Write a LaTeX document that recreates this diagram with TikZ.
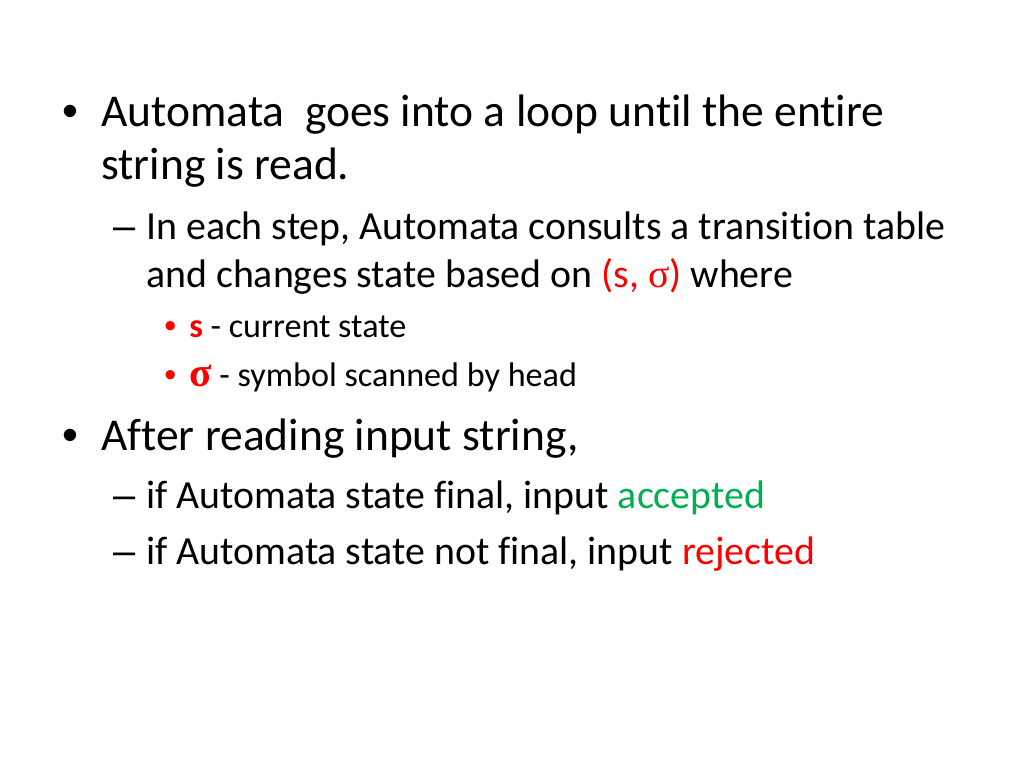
\documentclass[tikz,border=0pt]{standalone}
\usepackage{fontspec}
\setmainfont[Ligatures=NoCommon]{Carlito}
\newfontfamily\symfont{Liberation Serif}
\newfontfamily\markfont{Liberation Sans}
\usepackage{xcolor}
\definecolor{pptred}{RGB}{255,0,0}
\definecolor{pptgreen}{RGB}{0,176,80}
\newcommand{\sig}{{\symfont σ}}
\newcommand{\bigsig}{{\symfont\fontsize{29}{29}\selectfont σ}}

\begin{document}
\begin{tikzpicture}[x=0.703125pt,y=-0.703125pt,
    lone/.style={anchor=base west,inner sep=0pt,font=\fontsize{32}{38}\selectfont},
    ltwo/.style={anchor=base west,inner sep=0pt,font=\fontsize{28}{34}\selectfont},
    lthree/.style={anchor=base west,inner sep=0pt,font=\fontsize{24}{29}\selectfont},
    bulletmark/.style={anchor=base west,inner sep=0pt}]
   \useasboundingbox[fill=white] (0,0) rectangle (1024,768);
    % first level
    \node[bulletmark,font=\markfont\fontsize{32}{38}\selectfont] (b1) at (62,127) {•};
    \node[lone] (loop) at (101,127) {Automata\ \ goes into a loop until the entire};
    \node[lone] (read) at (101,180) {string is read.};
    % second level
    \node[bulletmark,font=\markfont\fontsize{28}{34}\selectfont] (d1) at (113,240) {–};
    \node[ltwo] (step) at (146,240) {In each step, Automata consults a transition table};
    \node[ltwo] (based) at (146,288) {and changes state based on \textcolor{pptred}{(s, \sig)} where};
    % third level
    \foreach \y/\nm/\sym/\txt in {337/cur/s/current state, 386/sym/\bigsig/symbol scanned by head}{
      \node[bulletmark,pptred,font=\markfont\fontsize{24}{29}\selectfont] (b\nm) at (164,\y) {•};
      \node[lthree] (\nm) at (189,\y) {\textcolor{pptred}{\textbf{\sym}} - \txt};
    }
    % second bullet
    \node[bulletmark,font=\markfont\fontsize{32}{38}\selectfont] (b2) at (62,450) {•};
    \node[lone] (after) at (101,450) {After reading input string,};
    \node[bulletmark,font=\markfont\fontsize{28}{34}\selectfont] (d2) at (113,508) {–};
    \node[ltwo] (acc) at (146,508) {if Automata state final, input \textcolor{pptgreen}{accepted}};
    \node[bulletmark,font=\markfont\fontsize{28}{34}\selectfont] (d3) at (113,564) {–};
    \node[ltwo] (rej) at (146,564) {if Automata state not final, input \textcolor{pptred}{rejected}};
\end{tikzpicture}
\end{document}
